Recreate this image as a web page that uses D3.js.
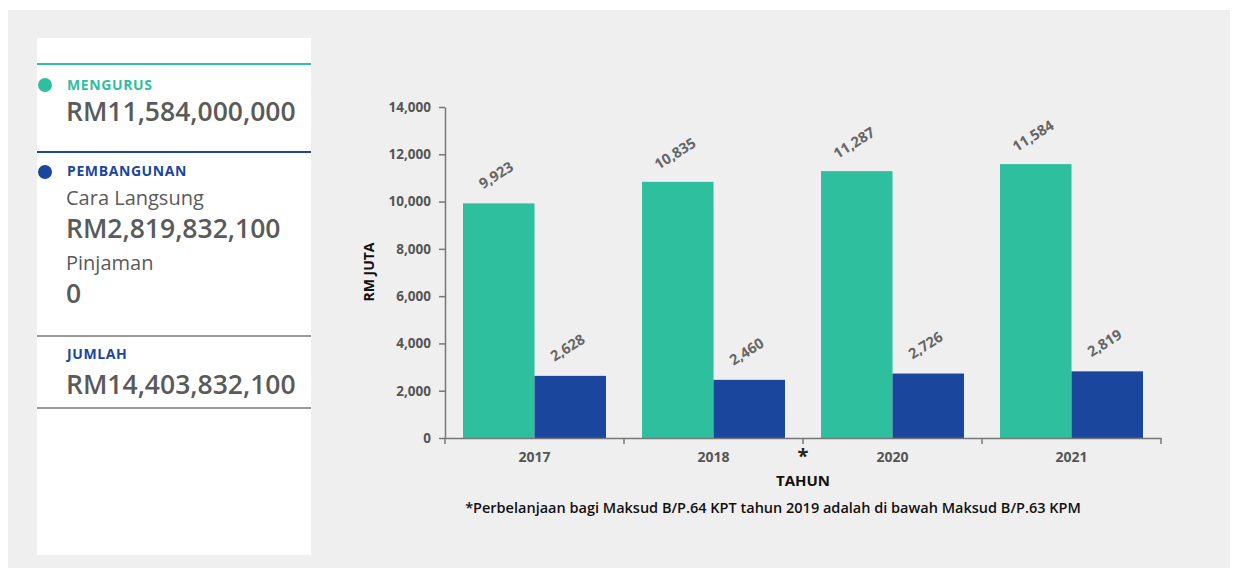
<!DOCTYPE html>
<meta charset="utf-8">
<script src="https://d3js.org/d3.v7.min.js"></script>
<style>
  body { margin: 0; background: #fff; font-family: "Open Sans", sans-serif; }
</style>
<div id="my_dataviz"></div>
<script>

// data
var years = ["2017", "2018", "2020", "2021"];
var mengurus = [9923, 10835, 11287, 11584];
var pembangunan = [2628, 2460, 2726, 2819];
var yTicks = [0, 2000, 4000, 6000, 8000, 10000, 12000, 14000];

var teal = "#2ebf9f", blue = "#1a469e", grey = "#5a5a5a";

var svg = d3.select("#my_dataviz")
  .append("svg")
    .attr("width", 1238)
    .attr("height", 578);

// background panel
svg.append("rect").attr("x", 8).attr("y", 10).attr("width", 1222).attr("height", 558).attr("fill", "#efefef");

// left card
var card = svg.append("g");
card.append("rect").attr("x", 37).attr("y", 38).attr("width", 274).attr("height", 517).attr("fill", "#fff");
card.append("line").attr("x1", 37).attr("x2", 311).attr("y1", 64).attr("y2", 64).attr("stroke", teal).attr("stroke-width", 2);
card.append("circle").attr("cx", 45).attr("cy", 85).attr("r", 7).attr("fill", teal);
card.append("text").attr("x", 67).attr("y", 90).text("MENGURUS")
  .attr("fill", teal).attr("font-size", 14).attr("font-weight", 700).attr("letter-spacing", 0.6);
card.append("text").attr("x", 66).attr("y", 121).text("RM11,584,000,000")
  .attr("fill", grey).attr("font-size", 26.5).attr("font-weight", 600);

card.append("line").attr("x1", 37).attr("x2", 311).attr("y1", 152).attr("y2", 152).attr("stroke", blue).attr("stroke-width", 2);
card.append("circle").attr("cx", 45).attr("cy", 172).attr("r", 7).attr("fill", blue);
card.append("text").attr("x", 67).attr("y", 176).text("PEMBANGUNAN")
  .attr("fill", blue).attr("font-size", 14).attr("font-weight", 700).attr("letter-spacing", 0.6);
card.append("text").attr("x", 66).attr("y", 205).text("Cara Langsung")
  .attr("fill", grey).attr("font-size", 20).attr("font-weight", 500);
card.append("text").attr("x", 66).attr("y", 238).text("RM2,819,832,100")
  .attr("fill", grey).attr("font-size", 26.5).attr("font-weight", 600);
card.append("text").attr("x", 66).attr("y", 270).text("Pinjaman")
  .attr("fill", grey).attr("font-size", 20).attr("font-weight", 500);
card.append("text").attr("x", 66).attr("y", 303).text("0")
  .attr("fill", grey).attr("font-size", 26.5).attr("font-weight", 600);

card.append("line").attr("x1", 37).attr("x2", 311).attr("y1", 336).attr("y2", 336).attr("stroke", "#777").attr("stroke-width", 1.5);
card.append("text").attr("x", 67).attr("y", 359).text("JUMLAH")
  .attr("fill", blue).attr("font-size", 14).attr("font-weight", 700).attr("letter-spacing", 0.6);
card.append("text").attr("x", 66).attr("y", 394).text("RM14,403,832,100")
  .attr("fill", grey).attr("font-size", 26.5).attr("font-weight", 600);
card.append("line").attr("x1", 37).attr("x2", 311).attr("y1", 408).attr("y2", 408).attr("stroke", "#777").attr("stroke-width", 1.5);

// chart
var plotLeft = 445, plotRight = 1161, plotTop = 107, plotBottom = 438;

var x = d3.scaleBand().domain(years).range([plotLeft, plotRight]).paddingInner(0).paddingOuter(0);
var xs = d3.scaleBand().domain(["m", "p"]).range([18, x.bandwidth() - 18]);
var y = d3.scaleLinear().domain([0, 14000]).range([plotBottom, plotTop]);

var rows = years.map(function(d, i) { return {year: d, m: mengurus[i], p: pembangunan[i]}; });

var g = svg.append("g");
rows.forEach(function(r) {
  ["m", "p"].forEach(function(k) {
    var bx = x(r.year) + xs(k);
    g.append("rect")
      .attr("x", bx).attr("y", y(r[k]))
      .attr("width", xs.bandwidth()).attr("height", y(0) - y(r[k]))
      .attr("fill", k == "m" ? teal : blue);
    g.append("text")
      .attr("transform", "translate(" + (bx + xs.bandwidth() / 2) + "," + (y(r[k]) - 24) + ") rotate(-32)")
      .attr("text-anchor", "middle")
      .attr("fill", "#666").attr("font-size", 14.5).attr("font-weight", 700)
      .text(d3.format(",")(r[k]));
  });
});

// y axis
var yAxis = svg.append("g").attr("transform", "translate(" + plotLeft + ",0)")
  .call(d3.axisLeft(y).tickValues(yTicks).tickFormat(d3.format(",")).tickSize(6).tickSizeOuter(0));
yAxis.selectAll("text").attr("fill", "#555").attr("font-size", 13.5).attr("font-weight", 700)
  .attr("font-family", "Open Sans").attr("x", -14);

// x axis
var xAxis = svg.append("g").attr("transform", "translate(0," + plotBottom + ")")
  .call(d3.axisBottom(x).tickSize(0));
xAxis.selectAll("text").attr("fill", "#555").attr("font-size", 14).attr("font-weight", 700)
  .attr("font-family", "Open Sans").attr("dy", "1.5em");
[plotLeft, plotRight].concat(years.slice(1).map(function(d) { return x(d); })).forEach(function(tx) {
  xAxis.append("line").attr("x1", tx).attr("x2", tx).attr("y1", 0).attr("y2", 6);
});
svg.selectAll(".domain, .tick line").attr("stroke", "#777").attr("stroke-width", 1.5);
xAxis.selectAll("line").attr("stroke", "#777").attr("stroke-width", 1.5);

svg.append("text").attr("x", x("2020")).attr("y", 463).attr("text-anchor", "middle")
  .attr("font-size", 20).attr("font-weight", 700).attr("fill", "#222").text("*");

svg.append("text").attr("x", 803).attr("y", 486).attr("text-anchor", "middle")
  .attr("font-size", 15).attr("font-weight", 700).attr("fill", "#111").text("TAHUN");

svg.append("text")
  .attr("transform", "translate(374,272) rotate(-90)")
  .attr("text-anchor", "middle")
  .attr("font-size", 14).attr("font-weight", 700).attr("fill", "#111").text("RM JUTA");

svg.append("text").attr("x", 773).attr("y", 513).attr("text-anchor", "middle")
  .attr("font-size", 14.5).attr("font-weight", 600).attr("fill", "#111")
  .text("*Perbelanjaan bagi Maksud B/P.64 KPT tahun 2019 adalah di bawah Maksud B/P.63 KPM");

</script>
